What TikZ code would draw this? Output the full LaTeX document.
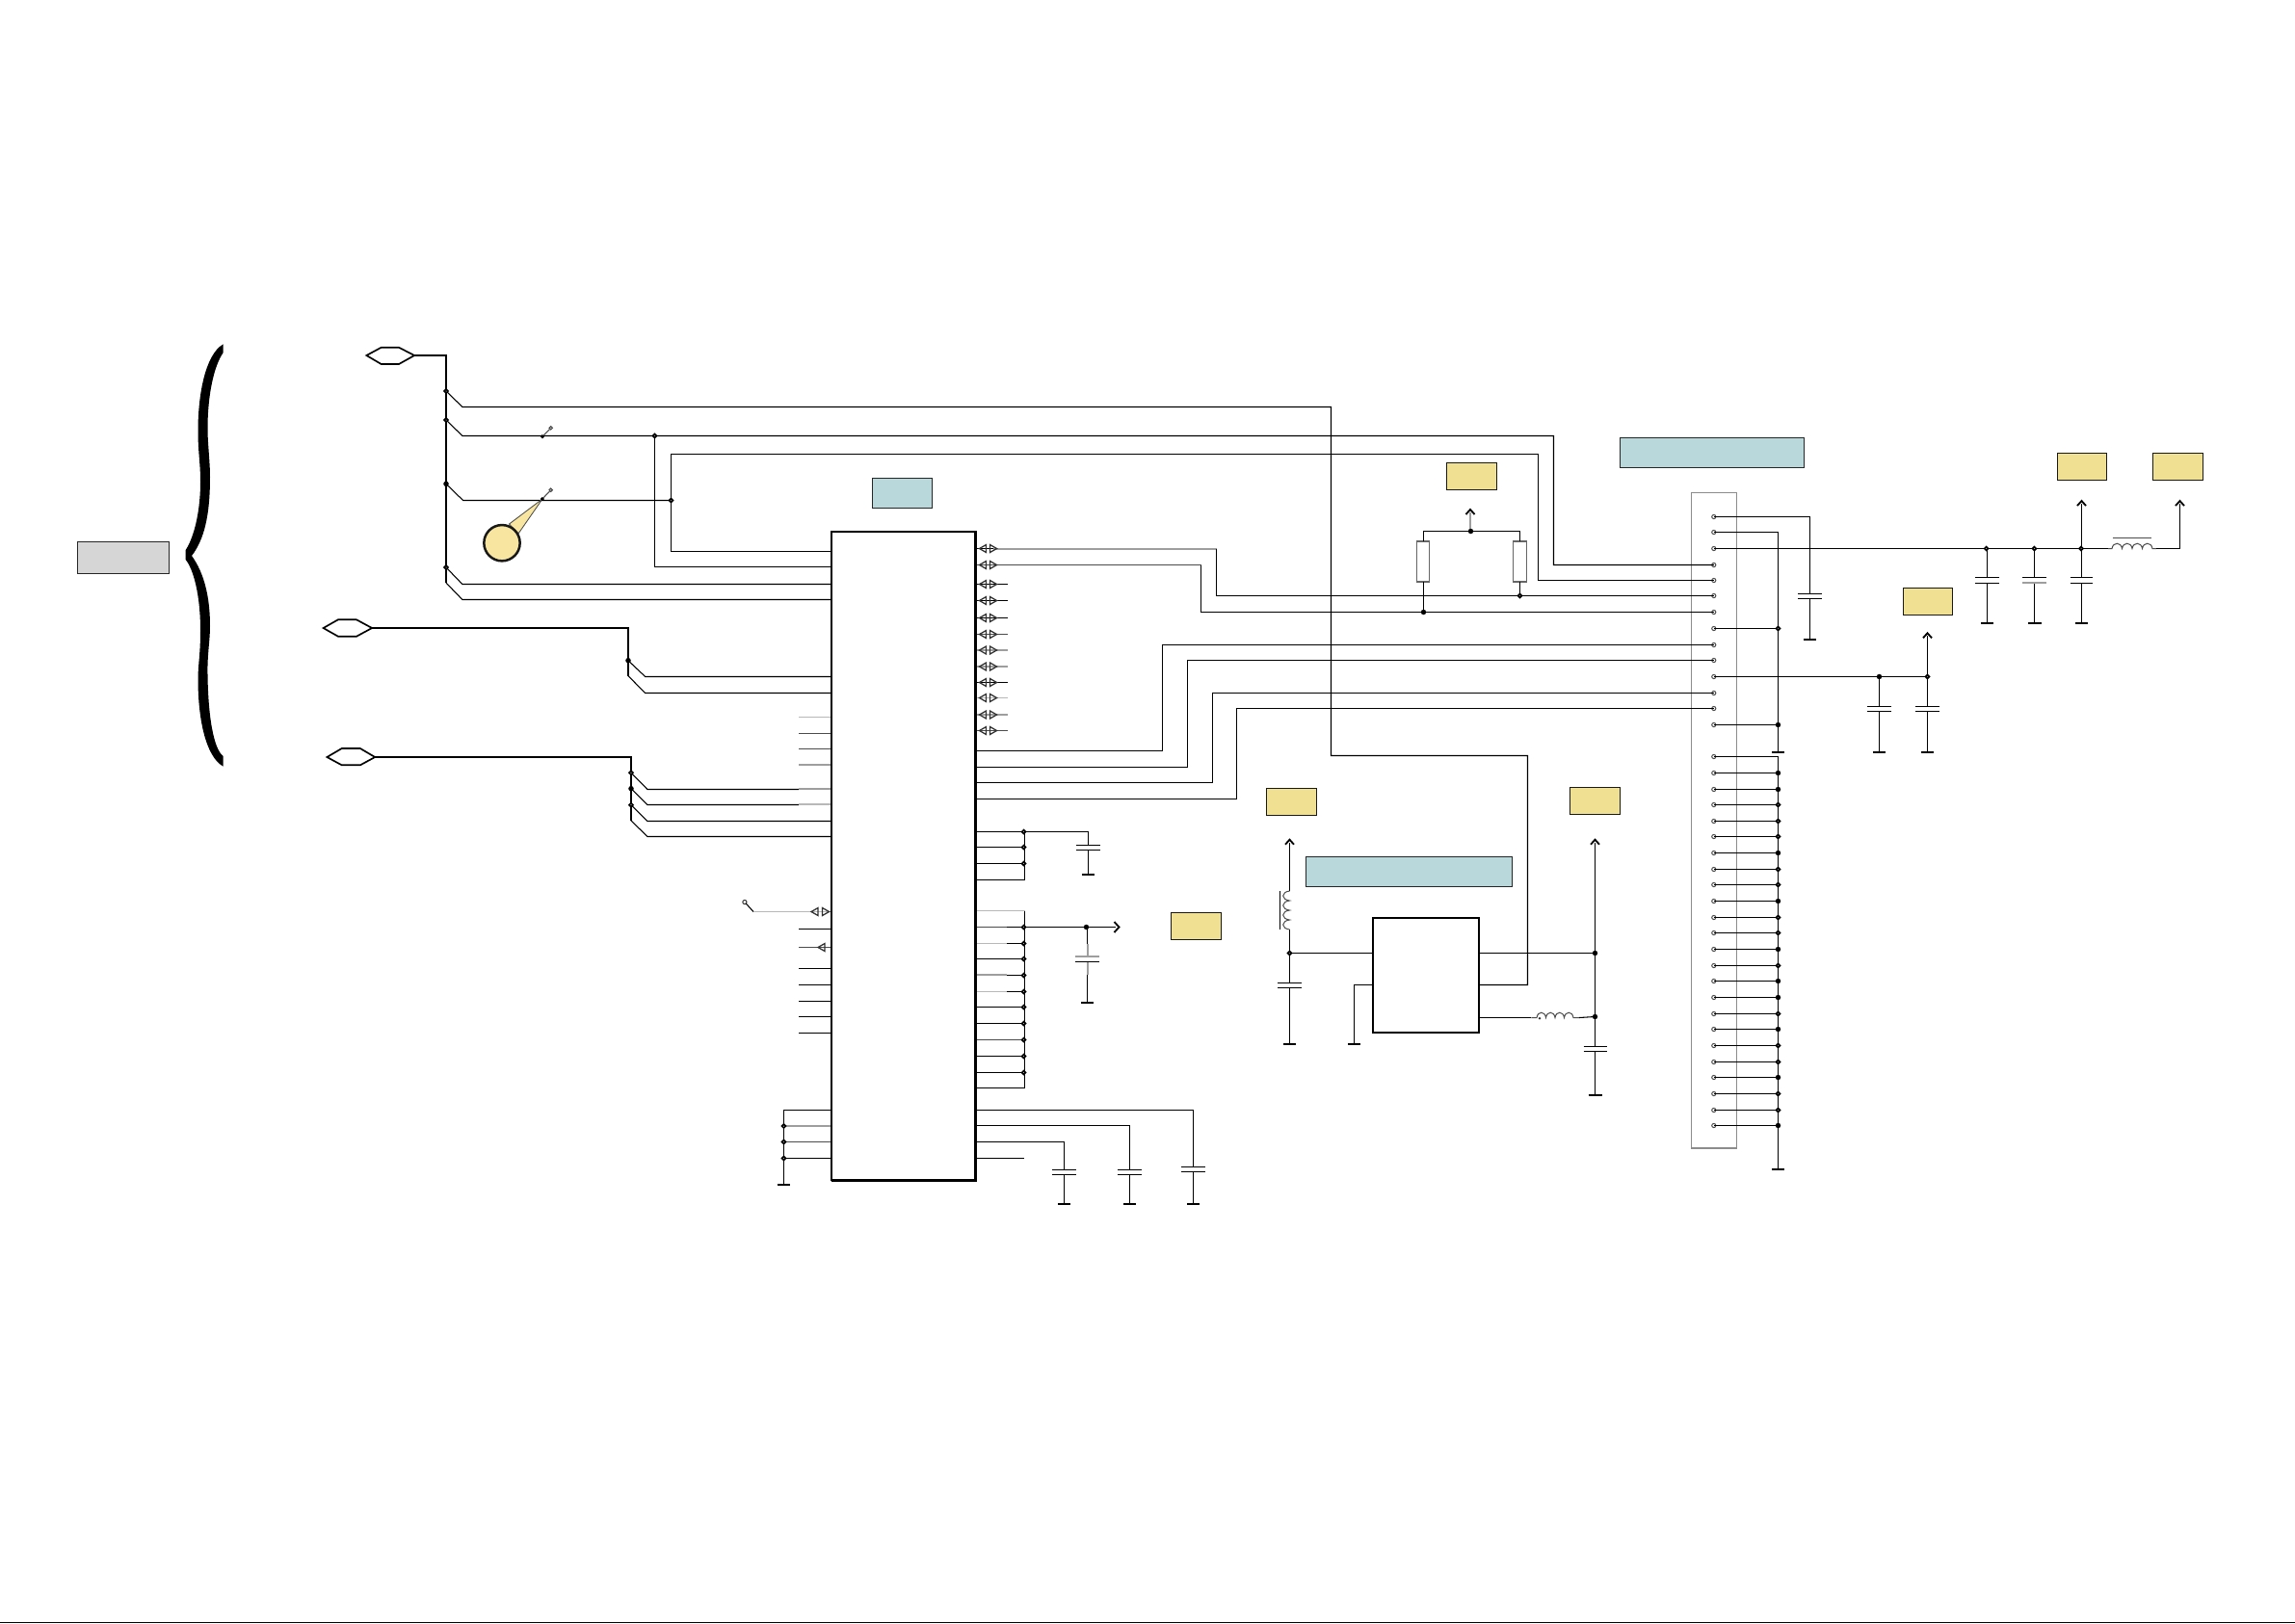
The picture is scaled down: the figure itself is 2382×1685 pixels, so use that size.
\documentclass[tikz,border=0pt]{standalone}
\definecolor{bluefill}{HTML}{B8D8DC}
\definecolor{yelfill}{HTML}{F0E192}
\definecolor{grayfill}{HTML}{D6D6D6}
\definecolor{callfill}{HTML}{F8E5A0}
\tikzset{
  wire/.style={line width=0.32pt,black,line join=miter},
  wireL/.style={line width=0.32pt,color=black!28},
  wireG/.style={line width=0.6pt,color=black!38},
  wireD/.style={line width=0.32pt,color=black!70},
  bus/.style={line width=0.6pt,black},
  hexs/.style={line width=0.5pt,black,fill=white},
  gnd/.style={line width=0.6pt,black},
  chev/.style={line width=0.55pt,black},
  tri/.style={line width=0.38pt,color=black!80},
  coil/.style={line width=0.3pt,color=black!70},
  bluebox/.style={draw=black!85,line width=0.34pt,fill=bluefill},
  yelbox/.style={draw=black!90,line width=0.34pt,fill=yelfill},
  grybox/.style={draw=black!85,line width=0.34pt,fill=grayfill},
  whitebox/.style={draw=black,line width=0.6pt,fill=white},
  conbox/.style={draw=black!45,line width=0.38pt},
  resbox/.style={draw=black!60,line width=0.42pt,fill=white},
  jopen/.style={circle,draw=black,fill=white,line width=0.5pt,minimum size=1.15pt,inner sep=0pt,outer sep=0pt},
  jfill/.style={circle,fill=black,draw=black,line width=0.1pt,minimum size=1.5pt,inner sep=0pt,outer sep=0pt},
  term/.style={circle,draw=black!70,line width=0.3pt,minimum size=1.25pt,inner sep=0pt,outer sep=0pt},
  tip/.style={circle,draw=black!75,fill=black!35,line width=0.25pt,minimum size=1.1pt,inner sep=0pt,outer sep=0pt},
}
\newcommand{\mybox}[6]{%
  \pgfmathsetmacro\bw{(#5-#3)*0.3}\pgfmathsetmacro\bh{(#6-#4)*0.3}%
  \node[#2,minimum width=\bw pt,minimum height=\bh pt,inner sep=0pt,outer sep=0pt] (#1) at ({(#3+#5)/2},{(#4+#6)/2}) {};}
\newcommand{\hexa}[8]{% name x1 xi1 xi2 x2 yt yc yb
  \draw[hexs] (#2,#7) -- (#3,#6) -- (#4,#6) -- (#5,#7) -- (#4,#8) -- (#3,#8) -- cycle;
  \coordinate (#1) at (#5,#7);}
\newcommand{\capgnd}[7]{% x ytop p1 p2 halfw yg gndhalf
  \draw[wire] (#1,#2) -- (#1,#3) (#1,#4) -- (#1,#6);
  \draw[wire] ({#1-#5},#3) -- ({#1+#5},#3) ({#1-#5},#4) -- ({#1+#5},#4);
  \draw[gnd] ({#1-#7},#6) -- ({#1+#7},#6);}
\newcommand{\upar}[2]{\draw[chev] ({#1-4.5},{#2+5}) -- (#1,#2) -- ({#1+4.5},{#2+5});}
\newcommand{\bidir}[3]{%
  \draw[tri] ({#1-4},#3) -- ({#1+3},{#3-4}) -- ({#1+3},{#3+4}) -- cycle;
  \draw[tri] ({#2+4},#3) -- ({#2-3},{#3-4}) -- ({#2-3},{#3+4}) -- cycle;}
\begin{document}
\begin{tikzpicture}[x=0.3pt,y=-0.3pt]
\useasboundingbox (0,0) rectangle (2382,1685);
\draw[line width=0.45pt,color=black] (0,1684.4) -- (2382,1684.4);

% boxes
\mybox{label}{grybox}{80.5}{562.5}{175.5}{595.5}
\mybox{bchip}{bluebox}{905.5}{496.5}{967.5}{527.5}
\mybox{bconn}{bluebox}{1681.5}{454.5}{1872.5}{485.5}
\mybox{breg}{bluebox}{1355.5}{889.5}{1569.5}{920.5}
\mybox{ya}{yelbox}{1501.5}{480.5}{1553.5}{508.5}
\mybox{yb}{yelbox}{1314.5}{818.5}{1366.5}{846.5}
\mybox{yc}{yelbox}{1629.5}{817.5}{1681.5}{845.5}
\mybox{yd}{yelbox}{1215.5}{947.5}{1267.5}{975.5}
\mybox{ye}{yelbox}{1975.5}{610.5}{2026.5}{638.5}
\mybox{yf}{yelbox}{2135.5}{470.5}{2186.5}{498.5}
\mybox{yg}{yelbox}{2234.5}{470.5}{2286.5}{498.5}

% brace
\fill[black] (231.7,357.3) .. controls (213,368) and (205.5,410) .. (205.5,447)
  .. controls (205.5,470) and (208,480) .. (208,500)
  .. controls (208,535) and (200,560) .. (192.7,571) -- (192.7,581)
  .. controls (200,590) and (208,615) .. (208,655)
  .. controls (208,680) and (205.5,690) .. (205.5,705)
  .. controls (205.5,745) and (213,785) .. (231.7,795.7) -- (231.7,785)
  .. controls (222,778) and (216,745) .. (215.5,700)
  .. controls (215,680) and (218,665) .. (218,650)
  .. controls (218,620) and (212,595) .. (199,577)
  .. controls (212,560) and (218,535) .. (218,495)
  .. controls (218,480) and (215.5,460) .. (215.5,445)
  .. controls (215.5,410) and (222,380) .. (231.7,366) -- cycle;

% connector frame and terminals
\mybox{conn}{conbox}{1755.5}{511.5}{1802.5}{1192}
\foreach \n/\y in {1/536.5,2/552.5,3/569.5,4/586.5,5/602.5,6/618.5,7/635.5,8/652.5,9/669.5,10/685.5,11/702.5,12/719.5,13/735.5,14/752.5,
  15/785.5,16/802.5,17/819.5,18/835.5,19/852.5,20/868.5,21/885.5,22/902.5,23/918.5,24/935.5,25/952.5,26/968.5,27/985.5,28/1002.5,29/1018.5,30/1035.5,31/1052.5,32/1068.5,33/1085.5,34/1102.5,35/1118.5,36/1135.5,37/1152.5,38/1168.5}
  {\node[term] (T\n) at (1778.8,\y) {};}

% chip pins
\foreach \n/\y in {a/572.5,b/588.5,c/606.5,d/622.5,e/702.5,f/719.5,g/744.5,h/761.5,i/777.5,j/794,k/819,l/835.5,m/852.5,n/868.5,o/946.5,p/964.5,q/983.5,r/1005.5,s/1022.5,t/1039.5,u/1055.5,v/1072.5,w/1152.5,x/1169,y/1185.5,z/1202.5}
  {\coordinate (CL\n) at (863,\y);}
\foreach \n/\y in {a/569.5,b/586.5,c/606.5,d/623.5,e/641.5,f/658.5,g/675,h/692,i/708.5,j/724.5,k/742,l/758.5,m/779.5,n/796.5,o/812.5,p/829.5,q/863.5,r/879.5,s/896.5,t/913.5,u/945.5,v/962.5,w/979.5,x/995.5,y/1012,z/1029.5}
  {\coordinate (CR\n) at (1012.7,\y);}
\foreach \n/\y in {A/1045.5,B/1062.5,C/1079.5,D/1096.5,E/1113.5,F/1129.5,G/1152.5,H/1168.5,I/1185.5,J/1202.5}
  {\coordinate (CR\n) at (1012.7,\y);}

% hexagons
\hexa{ha}{380.4}{395.7}{414}{430.1}{360.7}{369}{378}
\hexa{hb}{335.6}{350.9}{370}{386.1}{643.3}{652}{660.7}
\hexa{hc}{339.4}{354.7}{373.9}{389.2}{777}{786}{794.3}

% buses
\coordinate (ba) at (463,605);
\coordinate (bb) at (652,701.7);
\coordinate (bc) at (655,852);
\draw[bus] (ha) -| (ba);
\draw[bus] (hb) -| (bb);
\draw[bus] (hc) -| (bc);

% junctions on nets
\coordinate (ja) at (463,406);
\coordinate (jb) at (463,436);
\coordinate (jc) at (463,502.3);
\coordinate (jd) at (463,589);
\coordinate (je) at (652,685.7);
\coordinate (jf) at (655,802.3);
\coordinate (jg) at (655,818.7);
\coordinate (jh) at (655,835.7);
\coordinate (ji) at (679.5,452.5);
\coordinate (jj) at (696.5,519.5);

\draw[wire] (ja) -- (479.9,422.5) -| (1381.5,784.5) -| (1585.5,1022.5) -- (1535,1022.5);
\draw[wire] (jb) -- (479.9,452.5) -| (1612.5,586.5) -- (T4.center);
\draw[wire] (jc) -- (480.6,519.5) -- (jj);
\draw[wire] (jj) |- (CLa);
\draw[wire] (jj) |- (1596.5,471.5) |- (T5.center);
\draw[wire] (ji) |- (CLb);
\draw[wire] (jd) -- (479.9,606.5) -- (CLc);
\draw[wire] (ba) -- (479.9,622.5) -- (CLd);
\draw[wire] (je) -- (669.7,702.5) -- (CLe);
\draw[wire] (bb) -- (669.7,719.5) -- (CLf);
\draw[wire] (jf) -- (672,819.5) -- (829,819.5);
\draw[wire] (jg) -- (672,835.5) -- (829,835.5);
\draw[wire] (jh) -- (672,852.5) -- (CLm);
\draw[wire] (bc) -- (672,868.5) -- (CLn);

% callout
\draw[draw=black!70,line width=0.25pt,fill=callfill] (563,518) -- (528.5,544) -- (538,554) -- cycle;
\node[circle,draw=black!90,fill=callfill,line width=0.75pt,minimum size=11.2pt,inner sep=0pt] (call) at (521,563.7) {};

% switches
\node[jfill,minimum size=1.1pt] (sa) at (562.9,453.3) {};
\node[tip] (sat) at (571.7,444.3) {};
\draw[wireD] (sa) -- (sat);
\node[jfill,minimum size=1.1pt] (sb) at (562.9,518) {};
\node[tip] (sbt) at (571.7,508.7) {};
\draw[wireD] (sb) -- (sbt);

% left stubs
\draw[wireL] (829.2,744.5) -- (CLg);
\draw[wireD] (829.2,761.5) -- (CLh);
\draw[wireD] (829.2,777.5) -- (CLi);
\draw[wireG] (829.2,794) -- (CLj);
\draw[wireG] (829.2,819) -- (CLk);
\draw[wireL,line width=0.6pt] (829.2,835) -- (863,835);
\node[term,draw=black!80] (pint) at (772.9,936.5) {};
\draw[wire] (pint) -- (782,946.5);
\draw[wireL] (782,946.5) -- (CLo);
\bidir{846}{856.5}{946.5}
\draw[wire] (829,964.5) -- (CLp);
\draw[wireD] (829,983.5) -- (CLq);
\draw[tri] (849,983.5) -- (856,979.5) -- (856,987.5) -- cycle;
\foreach \n in {r,s,t,u,v} {\draw[wire] (829,0 |- CL\n) -- (CL\n);}

% lower left group
\coordinate (lg) at (813.5,1229.7);
\draw[wire] (CLw) -| (lg);
\draw[wireG] (813.5,1169) -- (CLx);
\draw[wireD] (813.5,1185.5) -- (CLy);
\draw[wire] (813.5,1202.5) -- (CLz);
\draw[gnd] (806.5,1230) -- (820,1230);
\node[jopen] (ll1) at (813.5,1169) {};
\node[jopen] (ll2) at (813.5,1185.5) {};
\node[jopen] (ll3) at (813.5,1202.5) {};

% right bidirectional rows
\draw[wire] (CRa) -- (1031,569.5);
\draw[wireG] (1031,570) -- (1262.5,570);
\draw[wire] (1262.5,569.5) |- (T6.center);
\draw[wireD] (CRb) -- (1246.5,586.5);
\draw[wire] (1246.5,586.5) |- (T7.center);
\foreach \n/\s in {c/wire,d/wire,e/wire,f/wireD,g/wireG,h/wireG,i/wire,j/wireL,k/wireG,l/wireD}
  {\draw[\s] (CR\n) -- (1045.8,0 |- CR\n);}
\foreach \y in {569.5,586.5,606.5,623.5,641.5,658.5,675,692,708.5,724.5,742,758.5}
  {\bidir{1020.5}{1030.5}{\y}}

% chip to connector nets
\draw[wire] (CRm) -| (1206.5,669.5) -- (T9.center);
\draw[wire] (CRn) -| (1232.5,685.5) -- (T10.center);
\draw[wire] (CRo) -| (1258.5,719.5) -- (T12.center);
\draw[wire] (CRp) -| (1283.5,735.5) -- (T13.center);

% chip right group 1
\coordinate (g1) at (1063.5,863.5);
\draw[wire] (CRt) -| (g1);
\foreach \n in {q,r,s} {\draw[wire] (CR\n) -- (1063.5,0 |- CR\n);}
\draw[wire] (g1) -| (1129.5,877.5);
\capgnd{1129.5}{877.5}{877.5}{882.5}{12.8}{908}{6.6}
\foreach \y in {863.5,879.5,896.5} {\node[jopen] at (1062.6,\y) {};}

% chip right group 2
\coordinate (g2) at (1063.5,945.5);
\draw[wire] (CRF) -| (g2);
\draw[wireL] (CRu) -- (g2);
\draw[wireD] (CRv) -- (1045,962.5);
\draw[wireL] (CRw) -- (1045,979.5);
\draw[wire] (CRx) -- (1063.5,995.5);
\draw[wireG] (CRy) -- (1045,1012);
\draw[wireL] (CRz) -- (1045,1029.5);
\draw[wire] (1045,962.5) -- (1158,962.5);
\draw[wire] (1045,979.5) -- (1063.5,979.5);
\draw[wire] (1045,1012.5) -- (1063.5,1012.5);
\draw[wire] (1045,1029.5) -- (1063.5,1029.5);
\draw[wire] (CRA) -- (1063.5,1045.5);
\draw[wire] (CRB) -- (1063.5,1062.5);
\draw[wireD] (CRC) -- (1063.5,1079.5);
\draw[wire] (CRD) -- (1063.5,1096.5);
\draw[wire] (CRE) -- (1063.5,1113.5);
\foreach \y in {962.5,979.5,995.5,1012.5,1029.5,1045.5,1062.5,1079.5,1096.5,1113.5} {\node[jopen] at (1062.6,\y) {};}
\capgnd{1128.5}{962.5}{993.5}{998.5}{12.7}{1041}{6.4}
\draw[wireG] (1128.5,979.5) -- (1128.5,993) (1116,993) -- (1141,993) (1128.5,999) -- (1128.5,1012);
\draw[chev] (1156.5,957) -- (1161.5,962.5) -- (1156.5,968);
\node[jfill] (g2j) at (1127.5,962.5) {};

% bottom right caps
\draw[wire] (CRG) -| (1238.5,1211.5);
\capgnd{1238.5}{1211.5}{1211.5}{1216.5}{12.5}{1250}{6.5}
\draw[wire] (CRH) -| (1172.5,1214.5);
\capgnd{1172.5}{1214.5}{1214.5}{1219.5}{12.6}{1250}{6.4}
\draw[wire] (CRI) -| (1104.5,1214.5);
\capgnd{1104.5}{1214.5}{1214.5}{1219.5}{12.5}{1250}{6.5}
\draw[wire] (CRJ) -- (1062.5,1202.5);

% chip body
\mybox{chip}{whitebox}{863}{551.7}{1012.7}{1225.3}
\draw[line width=0.95pt] (chip.north east) -- (chip.south east) -- (chip.south west);

% regulator and its nets
\mybox{reg}{whitebox}{1425}{953}{1535}{1072}
\node[jopen] (rj) at (1338.5,989.5) {};
\draw[wire] (rj) -- (1425,989.5);
\draw[wire] (rj) -- (1338.5,965);
\draw[wire] (1338.5,925) -- (1338.5,875);
\upar{1338.5}{871.7}
\draw[wire] (1328.5,925) -- (1328.5,965);
\draw[coil] (1338.5,925) \foreach \i in {1,2,3,4} { .. controls +(-9,1) and +(-9,-1) .. ++(0,10) };
\capgnd{1338.5}{989.5}{1020.5}{1025.5}{12.4}{1084}{6.5}
\draw[wire] (1425,1022.5) -| (1405.5,1084);
\draw[gnd] (1399,1084) -- (1412,1084);
\node[jfill] (rk) at (1655.5,989.5) {};
\node[jfill] (rl) at (1655.5,1055.5) {};
\draw[wire] (1535,989.5) -- (rk);
\draw[wire] (1535,1056.5) -- (1589.3,1056.5);
\draw[coil] (1589.3,1056.5) -- (1595,1056.5) \foreach \i in {1,2,3,4} { .. controls +(1,-7) and +(-1,-7) .. ++(9.5,0) } -- (1639,1056.5);
\fill[black!80] (1598,1057.3) circle[radius=1.4];
\draw[wire] (1639,1056.5) -- (rl);
\draw[wire] (1655.5,875) -- (rl);
\upar{1655.5}{871.7}
\capgnd{1655.5}{1055.5}{1086.5}{1091.5}{12}{1137}{7}

% resistors
\coordinate (rt) at (1526.5,551.5);
\mybox{ra}{resbox}{1470.7}{562}{1483.7}{604}
\mybox{rb}{resbox}{1570.7}{562}{1584.3}{604}
\draw[wire] (1477.5,562) |- (rt) -| (1577.5,562);
\draw[wireG] (1526,551) -- (1526,532);
\upar{1526}{529}
\node[jfill] (rtj) at (rt) {};
\node[jfill] (raj) at (1477.5,635.5) {};
\node[jopen] (rbj) at (1577.5,618.5) {};
\draw[wire] (1477.5,604) -- (raj);
\draw[wire] (1577.5,604) -- (rbj);

% connector top rows
\draw[wire] (T1.center) -| (1878.5,616.5);
\capgnd{1878.5}{616.5}{616.5}{621.5}{12.4}{664}{6.9}
\draw[wire] (T2.center) -| (1845.5,781);
\draw[gnd] (1839.2,781) -- (1851.8,781);
\draw[wire] (T8.center) -- (1845.5,652.5);
\draw[wire] (T14.center) -- (1845.5,752.5);
\node[jopen] at (1845.5,652.5) {};
\node[jfill] at (1845.5,752.5) {};

% supply line
\draw[wire] (T3.center) -- (2188,569.5);
\capgnd{2062.5}{569.5}{599.5}{605.5}{12.4}{647}{6.5}
\capgnd{2111.5}{569.5}{599.5}{605.5}{12.4}{647}{7}
\draw[wireG] (2099,605) -- (2124,605);
\capgnd{2160.5}{569.5}{599.5}{605.5}{11.8}{647}{6.9}
\draw[wire] (2160.5,569.5) -- (2160.5,523);
\upar{2160.5}{520}
\draw[coil] (2188,569.5) -- (2192,569.5) \foreach \i in {1,2,3,4} { .. controls +(1,-7) and +(-1,-7) .. ++(10.5,0) } -- (2238,569.5);
\draw[coil,line width=0.35pt] (2192.7,558.5) -- (2232.7,558.5);
\draw[wire] (2238,569.5) -| (2262.5,523);
\upar{2262.5}{520}
\node[jopen] at (2061.6,569.5) {};
\node[jopen] at (2111.4,569.5) {};
\node[jopen] at (2160,569.5) {};

% mid supply
\draw[wire] (T11.center) -- (2000.5,702.5);
\capgnd{1950.5}{702.5}{733.5}{738.5}{12.4}{781}{6.5}
\capgnd{2000.5}{702.5}{733.5}{738.5}{12.4}{781}{6.5}
\draw[wire] (2000.5,702.5) -- (2000.5,660);
\upar{2000.5}{657.3}
\node[jfill] at (1950.5,702.5) {};
\node[jopen] at (2000.5,702.5) {};

% lower connector bus
\coordinate (gb) at (1845.5,1214);
\draw[wire] (T15.center) -| (gb);
\draw[gnd] (1839,1214) -- (1852,1214);
\foreach \n in {16,...,38} {\draw[wire] (T\n.center) -- (1845.5,0 |- T\n);}
\foreach \y/\s in {802.5/jfill,819.5/jfill,835.5/jopen,852.5/jopen,868.5/jopen,885.5/jfill,902.5/jopen,918.5/jopen,935.5/jfill,952.5/jopen,968.5/jopen,985.5/jfill,1002.5/jopen,1018.5/jfill,1035.5/jfill,1052.5/jopen,1068.5/jfill,1085.5/jopen,1102.5/jopen,1118.5/jfill,1135.5/jopen,1152.5/jopen,1168.5/jfill}
  {\node[\s] at (1845.5,\y) {};}

% bus junction marks
\node[jopen] at (ja) {};
\node[jopen] at (jb) {};
\node[jfill] at (jc) {};
\node[jopen] at (jd) {};
\node[jfill] at (je) {};
\node[jopen] at (jf) {};
\node[jfill] at (jg) {};
\node[jopen] at (jh) {};
\node[jopen] at (ji) {};
\node[jopen] at (jj) {};
\end{tikzpicture}
\end{document}
